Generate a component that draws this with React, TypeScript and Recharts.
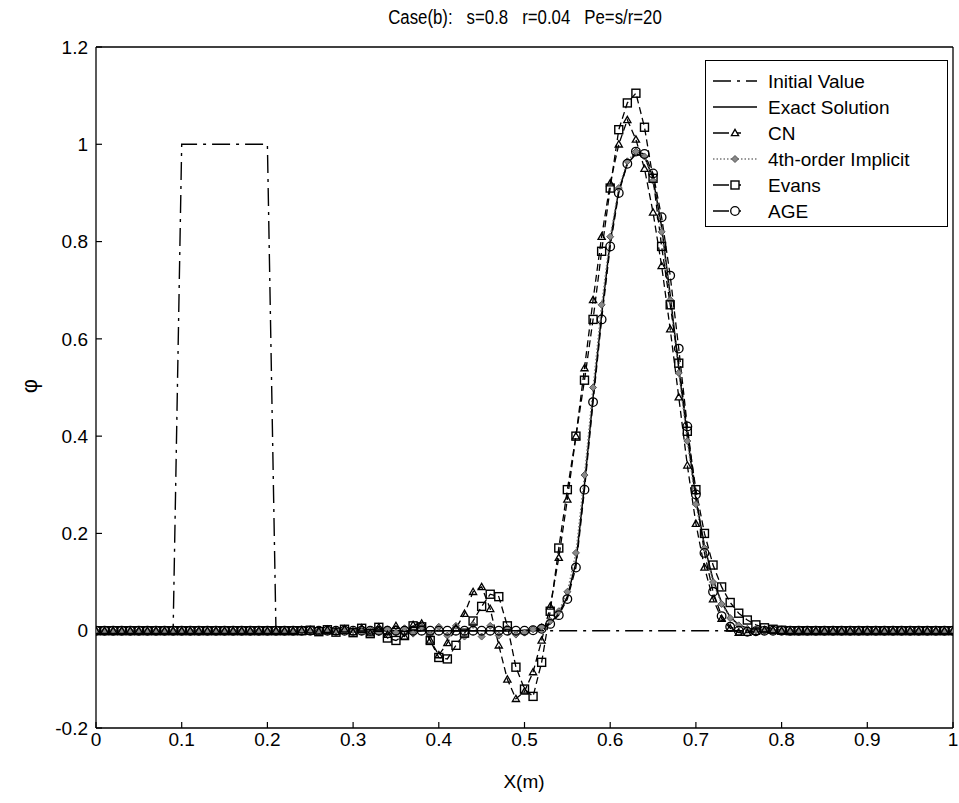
import React from 'react';
import { LineChart, Line, XAxis, YAxis, Legend } from 'recharts';

const X_VALUES = [
  0, 0.01, 0.02, 0.03, 0.04, 0.05, 0.06, 0.07, 0.08, 0.09,
  0.1, 0.11, 0.12, 0.13, 0.14, 0.15, 0.16, 0.17, 0.18, 0.19,
  0.2, 0.21, 0.22, 0.23, 0.24, 0.25, 0.26, 0.27, 0.28, 0.29,
  0.3, 0.31, 0.32, 0.33, 0.34, 0.35, 0.36, 0.37, 0.38, 0.39,
  0.4, 0.41, 0.42, 0.43, 0.44, 0.45, 0.46, 0.47, 0.48, 0.49,
  0.5, 0.51, 0.52, 0.53, 0.54, 0.55, 0.56, 0.57, 0.58, 0.59,
  0.6, 0.61, 0.62, 0.63, 0.64, 0.65, 0.66, 0.67, 0.68, 0.69,
  0.7, 0.71, 0.72, 0.73, 0.74, 0.75, 0.76, 0.77, 0.78, 0.79,
  0.8, 0.81, 0.82, 0.83, 0.84, 0.85, 0.86, 0.87, 0.88, 0.89,
  0.9, 0.91, 0.92, 0.93, 0.94, 0.95, 0.96, 0.97, 0.98, 0.99,
  1,
];

const INITIAL_VALUE = [
  0, 0, 0, 0, 0, 0, 0, 0, 0, 0,
  1, 1, 1, 1, 1, 1, 1, 1, 1, 1,
  1, 0, 0, 0, 0, 0, 0, 0, 0, 0,
  0, 0, 0, 0, 0, 0, 0, 0, 0, 0,
  0, 0, 0, 0, 0, 0, 0, 0, 0, 0,
  0, 0, 0, 0, 0, 0, 0, 0, 0, 0,
  0, 0, 0, 0, 0, 0, 0, 0, 0, 0,
  0, 0, 0, 0, 0, 0, 0, 0, 0, 0,
  0, 0, 0, 0, 0, 0, 0, 0, 0, 0,
  0, 0, 0, 0, 0, 0, 0, 0, 0, 0,
  0,
];

const EXACT = [
  0, 0, 0, 0, 0, 0, 0, 0, 0, 0,
  0, 0, 0, 0, 0, 0, 0, 0, 0, 0,
  0, 0, 0, 0, 0, 0, 0, 0, 0, 0,
  0, 0, 0, 0, 0, 0, 0, 0, 0, 0,
  0, 0, 0, 0, 0, 0, 0, 0, 0, 0,
  0.001, 0.002, 0.005, 0.016, 0.035, 0.07, 0.14, 0.3, 0.48, 0.65,
  0.8, 0.905, 0.96, 0.98, 0.975, 0.93, 0.83, 0.69, 0.54, 0.4,
  0.27, 0.175, 0.105, 0.058, 0.028, 0.012, 0.005, 0.002, 0.001, 0,
  0, 0, 0, 0, 0, 0, 0, 0, 0, 0,
  0, 0, 0, 0, 0, 0, 0, 0, 0, 0,
  0,
];

const CN = [
  0, 0, 0, 0, 0, 0, 0, 0, 0, 0,
  0, 0, 0, 0, 0, 0, 0, 0, 0, 0,
  0, 0, 0, 0, 0.001, 0.001, -0.001, 0.002, -0.002, 0.003,
  -0.003, 0.005, -0.005, 0.007, -0.008, 0.01, -0.012, 0.012, 0.015, -0.02,
  -0.05, -0.025, 0.005, 0.035, 0.08, 0.09, 0.045, -0.03, -0.1, -0.14,
  -0.125, -0.085, -0.02, 0.05, 0.15, 0.27, 0.4, 0.54, 0.68, 0.81,
  0.92, 1.0, 1.05, 1.01, 0.95, 0.86, 0.75, 0.62, 0.48, 0.34,
  0.22, 0.13, 0.065, 0.025, 0.005, -0.004, -0.004, -0.002, 0.001, 0.001,
  0, 0, 0, 0, 0, 0, 0, 0, 0, 0,
  0, 0, 0, 0, 0, 0, 0, 0, 0, 0,
  0,
];

const FOURTH_ORDER = [
  0, 0, 0, 0, 0, 0, 0, 0, 0, 0,
  0, 0, 0, 0, 0, 0, 0, 0, 0, 0,
  0, 0, 0, 0, 0, 0, 0, 0, 0, 0,
  0.001, -0.002, 0.002, -0.003, 0.003, -0.004, 0.005, -0.006, 0.007, -0.008,
  0.008, -0.01, 0.01, -0.012, 0.012, -0.012, 0.01, -0.01, 0.006, -0.008,
  -0.004, 0.003, 0.008, 0.02, 0.04, 0.08, 0.16, 0.32, 0.5, 0.67,
  0.81, 0.91, 0.965, 0.985, 0.975, 0.925, 0.82, 0.68, 0.53, 0.39,
  0.26, 0.17, 0.1, 0.055, 0.026, 0.011, 0.004, 0.001, 0, 0,
  0, 0, 0, 0, 0, 0, 0, 0, 0, 0,
  0, 0, 0, 0, 0, 0, 0, 0, 0, 0,
  0,
];

const EVANS = [
  0, 0, 0, 0, 0, 0, 0, 0, 0, 0,
  0, 0, 0, 0, 0, 0, 0, 0, 0, 0,
  0, 0, 0, 0, 0, 0.001, -0.002, 0.002, -0.003, 0.003,
  -0.004, 0.005, -0.006, 0.007, -0.015, -0.02, -0.01, 0.01, 0.008, -0.02,
  -0.055, -0.058, -0.03, -0.005, 0.02, 0.05, 0.075, 0.07, 0.01, -0.075,
  -0.12, -0.135, -0.065, 0.04, 0.17, 0.29, 0.4, 0.515, 0.64, 0.78,
  0.91, 1.03, 1.085, 1.105, 1.035, 0.93, 0.79, 0.67, 0.55, 0.41,
  0.29, 0.2, 0.135, 0.09, 0.058, 0.036, 0.022, 0.012, 0.006, 0.003,
  0.001, 0, 0, 0, 0, 0, 0, 0, 0, 0,
  0, 0, 0, 0, 0, 0, 0, 0, 0, 0,
  0,
];

const AGE = [
  0, 0, 0, 0, 0, 0, 0, 0, 0, 0,
  0, 0, 0, 0, 0, 0, 0, 0, 0, 0,
  0, 0, 0, 0, 0, 0, 0, 0, 0, 0,
  0, 0, 0, 0, 0, 0, 0, 0, 0, 0,
  0, 0, 0, 0, 0, 0, 0, 0, 0, 0,
  0, 0.001, 0.004, 0.014, 0.032, 0.065, 0.13, 0.29, 0.47, 0.64,
  0.79, 0.9, 0.96, 0.985, 0.98, 0.94, 0.85, 0.73, 0.58, 0.42,
  0.28, 0.16, 0.08, 0.03, 0.008, 0, -0.002, -0.001, 0, 0,
  0, 0, 0, 0, 0, 0, 0, 0, 0, 0,
  0, 0, 0, 0, 0, 0, 0, 0, 0, 0,
  0,
];

const X_TICKS = [0, 0.1, 0.2, 0.3, 0.4, 0.5, 0.6, 0.7, 0.8, 0.9, 1];
const X_TICK_LABELS = ['0', '0.1', '0.2', '0.3', '0.4', '0.5', '0.6', '0.7', '0.8', '0.9', '1'];
const Y_TICKS = [-0.2, 0, 0.2, 0.4, 0.6, 0.8, 1, 1.2];
const Y_TICK_LABELS = ['-0.2', '0', '0.2', '0.4', '0.6', '0.8', '1', '1.2'];

const TITLE = 'Case(b):   s=0.8   r=0.04   Pe=s/r=20';
const X_LABEL = 'X(m)';
const Y_LABEL = 'φ';
const LEGEND_NAMES = ['Initial Value', 'Exact Solution', 'CN', '4th-order Implicit', 'Evans', 'AGE'];

const data = X_VALUES.map((x, i) => ({
  x,
  init: INITIAL_VALUE[i],
  exact: EXACT[i],
  cn: CN[i],
  fourth: FOURTH_ORDER[i],
  evans: EVANS[i],
  age: AGE[i],
}));

const FONT = "'Liberation Sans', Arial, Helvetica, sans-serif";

const triPath = (cx: number, cy: number, s: number) =>
  `M${cx},${cy - s} L${cx + s},${cy + s * 0.75} L${cx - s},${cy + s * 0.75} Z`;

const TriDot = (p: any) => {
  const { cx, cy, index } = p;
  if (cx == null || cy == null) return <g key={`t${index}`} />;
  return <path key={`t${index}`} d={triPath(cx, cy, 3.6)} fill="none" stroke="#000" strokeWidth={1.3} />;
};
const SqDot = (p: any) => {
  const { cx, cy, index } = p;
  if (cx == null || cy == null) return <g key={`s${index}`} />;
  return <rect key={`s${index}`} x={cx - 4} y={cy - 4} width={8} height={8} fill="none" stroke="#000" strokeWidth={1.4} />;
};
const CircDot = (p: any) => {
  const { cx, cy, index } = p;
  if (cx == null || cy == null) return <g key={`c${index}`} />;
  return <circle key={`c${index}`} cx={cx} cy={cy} r={4.3} fill="none" stroke="#000" strokeWidth={1.3} />;
};
const DiaDot = (p: any) => {
  const { cx, cy, index } = p;
  if (cx == null || cy == null) return <g key={`d${index}`} />;
  const s = 3.5;
  return (
    <path
      key={`d${index}`}
      d={`M${cx},${cy - s} L${cx + s},${cy} L${cx},${cy + s} L${cx - s},${cy} Z`}
      fill="#888"
      stroke="#555"
      strokeWidth={1}
    />
  );
};

const LegendBox = () => {
  const rowY = (i: number) => 20 + 26 * i;
  const x0 = 7;
  const x1 = 51;
  const mx = 29;
  return (
    <div
      style={{
        width: 243,
        height: 167,
        border: '1.5px solid #000',
        background: '#fff',
        boxSizing: 'border-box',
      }}
    >
      <svg width={240} height={164} style={{ display: 'block' }}>
        <line x1={x0} y1={rowY(0)} x2={x1} y2={rowY(0)} stroke="#000" strokeWidth={1.4} strokeDasharray="18 6 3 6" />
        <line x1={x0} y1={rowY(1)} x2={x1} y2={rowY(1)} stroke="#000" strokeWidth={1.4} />
        <line x1={x0} y1={rowY(2)} x2={x1} y2={rowY(2)} stroke="#000" strokeWidth={1.4} strokeDasharray="16 6 6 30" />
        <path d={triPath(mx, rowY(2), 3.6)} fill="#fff" stroke="#000" strokeWidth={1.3} />
        <line x1={x0} y1={rowY(3)} x2={x1} y2={rowY(3)} stroke="#777" strokeWidth={1.4} strokeDasharray="1.5 2" />
        <path d={`M${mx},${rowY(3) - 3.5} L${mx + 3.5},${rowY(3)} L${mx},${rowY(3) + 3.5} L${mx - 3.5},${rowY(3)} Z`} fill="#888" stroke="#555" strokeWidth={1} />
        <line x1={x0} y1={rowY(4)} x2={x1} y2={rowY(4)} stroke="#000" strokeWidth={1.4} strokeDasharray="16 6 6 30" />
        <rect x={mx - 4} y={rowY(4) - 4} width={8} height={8} fill="#fff" stroke="#000" strokeWidth={1.4} />
        <line x1={x0} y1={rowY(5)} x2={x1} y2={rowY(5)} stroke="#000" strokeWidth={1.4} strokeDasharray="16 6 6 30" />
        <circle cx={mx} cy={rowY(5)} r={4.3} fill="#fff" stroke="#000" strokeWidth={1.3} />
        {LEGEND_NAMES.map((n, i) => (
          <text key={n} x={62} y={rowY(i)} dy="0.36em" fontFamily={FONT} fontSize={19} fill="#000">
            {n}
          </text>
        ))}
      </svg>
    </div>
  );
};

const tickStyle = { fill: '#000', fontSize: 19, fontFamily: FONT };

export default function App() {
  return (
    <div style={{ position: 'absolute', left: 0, top: 0, width: 959, height: 803, background: '#fff' }}>
      <LineChart
        width={959}
        height={803}
        data={data}
        margin={{ top: 46, right: 5, bottom: 35, left: 36 }}
      >
        <XAxis
          xAxisId="b"
          dataKey="x"
          type="number"
          domain={[0, 1]}
          ticks={X_TICKS}
          interval={0}
          tickFormatter={(v: number, i: number) => X_TICK_LABELS[i]}
          tick={tickStyle}
          tickSize={-6}
          tickMargin={11}
          height={40}
          stroke="#000"
          axisLine={{ stroke: '#000', strokeWidth: 1.3 }}
          tickLine={{ stroke: '#000', strokeWidth: 1.2 }}
          allowDataOverflow
        />
        <XAxis
          xAxisId="t"
          dataKey="x"
          type="number"
          orientation="top"
          domain={[0, 1]}
          ticks={X_TICKS}
          interval={0}
          tick={false}
          tickSize={-6}
          height={1}
          axisLine={{ stroke: '#000', strokeWidth: 1.3 }}
          tickLine={{ stroke: '#000', strokeWidth: 1.2 }}
        />
        <YAxis
          yAxisId="l"
          type="number"
          domain={[-0.2, 1.2]}
          ticks={Y_TICKS}
          interval={0}
          tickFormatter={(v: number, i: number) => Y_TICK_LABELS[i]}
          tick={tickStyle}
          tickSize={-6}
          tickMargin={14}
          width={60}
          axisLine={{ stroke: '#000', strokeWidth: 1.3 }}
          tickLine={{ stroke: '#000', strokeWidth: 1.2 }}
          allowDataOverflow
        />
        <YAxis
          yAxisId="r"
          orientation="right"
          type="number"
          domain={[-0.2, 1.2]}
          ticks={Y_TICKS}
          interval={0}
          tick={false}
          tickSize={-6}
          width={1}
          axisLine={{ stroke: '#000', strokeWidth: 1.3 }}
          tickLine={{ stroke: '#000', strokeWidth: 1.2 }}
        />
        <Line xAxisId="b" yAxisId="l" dataKey="init" stroke="#000" strokeWidth={1.4} strokeDasharray="18 6 3 6" dot={false} isAnimationActive={false} type="linear" />
        <Line xAxisId="b" yAxisId="l" dataKey="exact" stroke="#000" strokeWidth={1.5} dot={false} isAnimationActive={false} type="linear" />
        <Line xAxisId="b" yAxisId="l" dataKey="fourth" stroke="#777" strokeWidth={1.4} strokeDasharray="1.5 2" dot={DiaDot} isAnimationActive={false} type="linear" />
        <Line xAxisId="b" yAxisId="l" dataKey="cn" stroke="#000" strokeWidth={1.3} strokeDasharray="7 4" dot={TriDot} isAnimationActive={false} type="linear" />
        <Line xAxisId="b" yAxisId="l" dataKey="evans" stroke="#000" strokeWidth={1.3} strokeDasharray="7 4" dot={SqDot} isAnimationActive={false} type="linear" />
        <Line xAxisId="b" yAxisId="l" dataKey="age" stroke="#000" strokeWidth={1.3} strokeDasharray="7 4" dot={CircDot} isAnimationActive={false} type="linear" />
        <Legend
          layout="vertical"
          align="center"
          verticalAlign="middle"
          wrapperStyle={{ left: 705, top: 60, width: 243, height: 167 }}
          content={() => <LegendBox />}
        />
      </LineChart>
      <div
        style={{
          position: 'absolute',
          left: 525,
          top: 5,
          transform: 'translateX(-50%) scaleX(0.84)',
          whiteSpace: 'pre',
          fontFamily: FONT,
          fontSize: 20,
          lineHeight: '24px',
          color: '#000',
        }}
      >
        {TITLE}
      </div>
      <div
        style={{
          position: 'absolute',
          left: 524,
          top: 770,
          transform: 'translateX(-50%)',
          whiteSpace: 'pre',
          fontFamily: FONT,
          fontSize: 19,
          lineHeight: '24px',
          color: '#000',
        }}
      >
        {X_LABEL}
      </div>
      <div
        style={{
          position: 'absolute',
          left: 30,
          top: 386,
          transform: 'translate(-50%, -50%) rotate(-90deg)',
          whiteSpace: 'pre',
          fontFamily: FONT,
          fontSize: 22,
          lineHeight: '24px',
          color: '#000',
        }}
      >
        {Y_LABEL}
      </div>
    </div>
  );
}
